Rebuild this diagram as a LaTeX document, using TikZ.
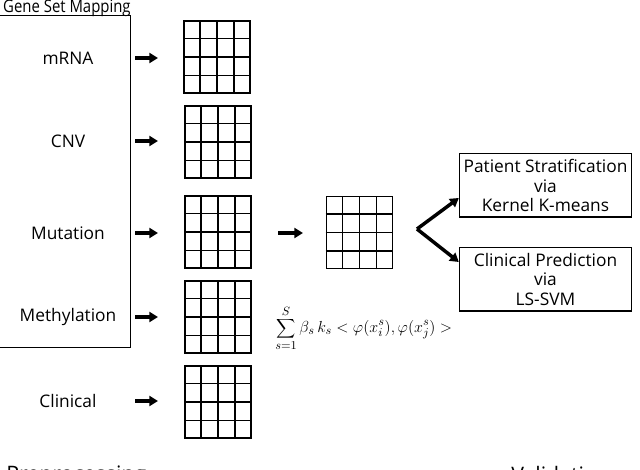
\documentclass[tikz,border=0pt]{standalone}
\usepackage{fontspec}
\setmainfont{Open Sans}
\usetikzlibrary{arrows.meta,calc}
\tikzset{
  lbl/.style={font=\fontsize{13}{15}\selectfont, inner sep=0pt},
  gridbox/.style={draw, line width=1.2pt, minimum width=49.5pt, minimum height=54pt, inner sep=0pt},
  gridline/.style={line width=0.95pt},
  fat/.style={line width=2.3pt, -{Triangle[length=6.5pt,width=7.5pt]}},
  outbox/.style={draw, line width=1pt, minimum width=129pt, minimum height=47.5pt, inner sep=0pt, align=center,
    font=\fontsize{13}{14.3}\selectfont},
}
\begin{document}
\begin{tikzpicture}[x=0.75pt,y=-0.75pt]
\useasboundingbox (0,0) rectangle (640,470);
\clip (0,0) rectangle (640,470);
% big box
\node[draw, line width=1pt, inner sep=0pt, minimum width=102pt, minimum height=249pt, anchor=north east] (bigbox) at (131,15) {};
\node[anchor=base west, inner sep=0pt, font=\fontsize{13}{14}\selectfont, xscale=0.86, transform shape] (title) at (3,13) {Gene Set Mapping};
% labels
\node[lbl] (l1) at (68,58) {mRNA};
\node[lbl] (l2) at (68,141) {CNV};
\node[lbl] (l3) at (68,233) {Mutation};
\node[lbl] (l4) at (68,317) {Methylation};
\node[lbl] (l5) at (68,401) {Clinical};
% grids
\node[gridbox] (g1) at (217,57) {};
\node[gridbox] (g2) at (218,142) {};
\node[gridbox] (g3) at (218,232) {};
\node[gridbox] (g4) at (218,317) {};
\node[gridbox] (g5) at (218,402) {};
\node[gridbox] (gc) at (359.5,232.5) {};
\foreach \g in {g1,g2,g3,g4,g5,gc}{
  \foreach \i in {1,2,3}{
    \draw[gridline] ($(\g.south west)!\i/4!(\g.south east)$) -- ($(\g.north west)!\i/4!(\g.north east)$);
    \draw[gridline] ($(\g.south west)!\i/4!(\g.north west)$) -- ($(\g.south east)!\i/4!(\g.north east)$);
  }
}
% arrows
\foreach \k/\y in {1/58,2/141,3/233,4/317,5/401}{
  \coordinate (a\k s) at (135,\y);
  \coordinate (a\k e) at (158,\y);
  \draw[fat] (a\k s) -- (a\k e);
}
\coordinate (ms) at (278,233);
\coordinate (me) at (303,233);
\draw[fat] (ms) -- (me);
% outputs
\node[outbox] (o1) at (545.5,185.5) {Patient Stratification\\via\\Kernel K-means};
\node[outbox] (o2) at (545.5,279.5) {Clinical Prediction\\via\\LS-SVM};
\coordinate (fork) at (417,229);
\draw[line width=2.6pt, line join=miter, -{Triangle[length=6.5pt,width=7.5pt]}] (fork) -- (o1.west |- 0,198);
\draw[line width=2.6pt, -{Triangle[length=6.5pt,width=7.5pt]}] (fork) -- (o2.west |- 0,262);
% formula
\node[anchor=west, inner sep=0pt, font=\fontsize{13}{15}\selectfont] (formula) at (275,328)
  {$\displaystyle\sum_{s=1}^{S}\beta_s\, k_s < \varphi(x_i^s), \varphi\big(x_j^s\big) >$};
% bottom clipped labels
\node[anchor=north west, inner sep=0pt, font=\fontsize{16}{18}\selectfont] (pre) at (6,466) {Preprocessing};
\node[anchor=north west, inner sep=0pt, font=\fontsize{16}{18}\selectfont] (val) at (511,466) {Validation};
\end{tikzpicture}
\end{document}
